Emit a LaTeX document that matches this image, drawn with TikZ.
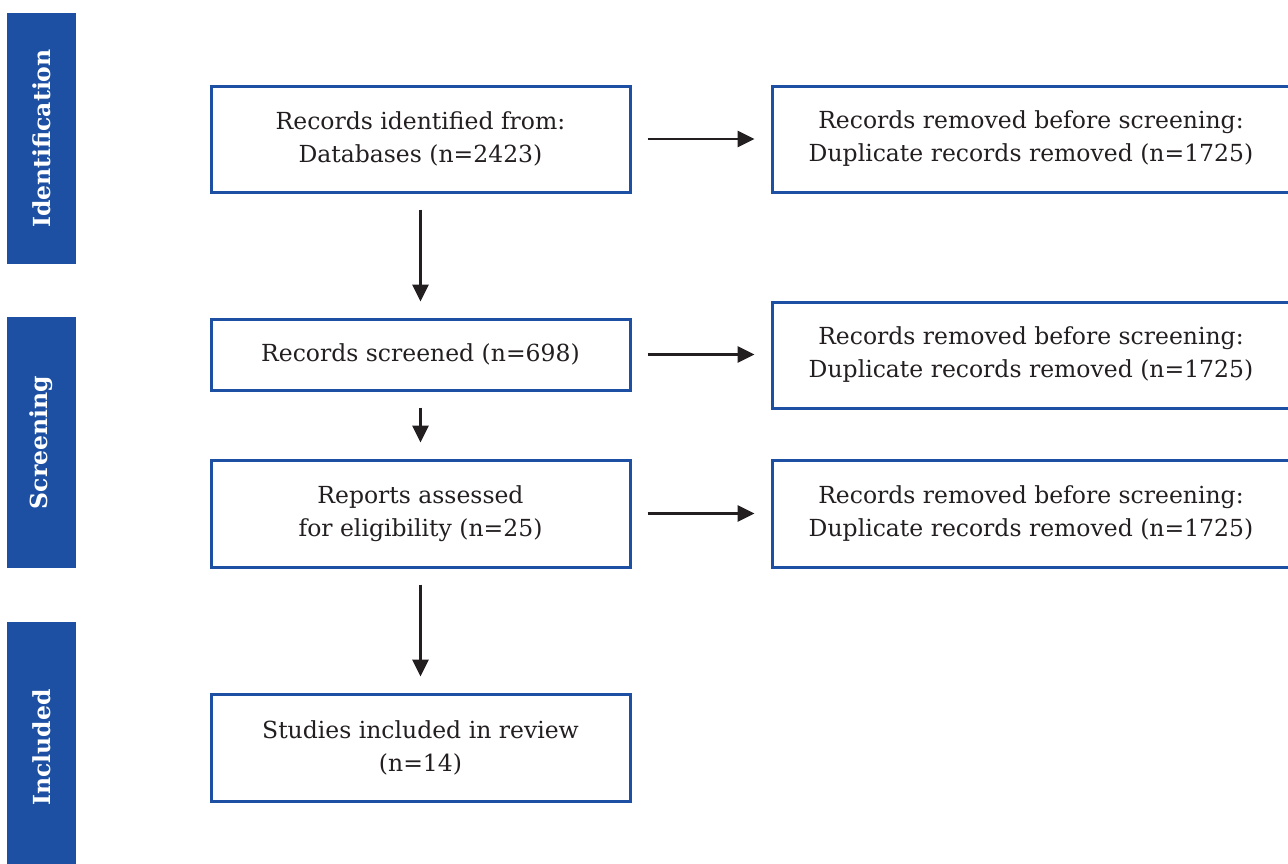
\documentclass[tikz,border=0pt]{standalone}
\usepackage{fontspec}
\setmainfont{DejaVu Serif}
\usetikzlibrary{arrows.meta}
\definecolor{pblue}{HTML}{1D50A2}
\definecolor{pdark}{HTML}{231F20}
\begin{document}
\begin{tikzpicture}[x=1pt,y=-1pt,
 box/.style={draw=pblue, line width=3pt, align=center, inner sep=0pt, text=pdark,
   font=\fontsize{23.5}{33}\selectfont},
 side/.style={fill=pblue, draw=none, minimum height=69pt, inner sep=0pt, text=white,
   font=\bfseries\fontsize{23.5}{26}\selectfont, rotate=90},
 arr/.style={draw=pdark, line width=2.8pt, -{Triangle[length=17pt,width=16pt]},
   shorten <=16pt, shorten >=16pt}]
\useasboundingbox (0,0) rectangle (1288,863);
\clip (0,0) rectangle (1288,863);
\fill[white] (0,0) rectangle (1288,863);
% side bars
\node[side, minimum width=251pt] (sid) at (41.5,138.5) {Identification};
\node[side, minimum width=251pt] (ssc) at (41.5,442.5) {Screening};
\node[side, minimum width=251pt] (sin) at (41.5,747.5) {Included};
% main column
\node[box, minimum width=419pt, minimum height=106pt] (b1) at (420.5,139) {Records identified from:\\Databases (n=2423)};
\node[box, minimum width=419pt, minimum height=71pt] (b2) at (420.5,354.5) {Records screened (n=698)};
\node[box, minimum width=419pt, minimum height=107pt] (b3) at (420.5,513.5) {Reports assessed\\for eligibility (n=25)};
\node[box, minimum width=419pt, minimum height=107pt] (b4) at (420.5,747.5) {Studies included in review\\(n=14)};
% right column
\node[box, minimum width=518pt, minimum height=106pt] (r1) at (1031,139) {Records removed before screening:\\Duplicate records removed (n=1725)};
\node[box, minimum width=518pt, minimum height=106pt] (r2) at (1031,355) {Records removed before screening:\\Duplicate records removed (n=1725)};
\node[box, minimum width=518pt, minimum height=107pt] (r3) at (1031,513.5) {Records removed before screening:\\Duplicate records removed (n=1725)};
% arrows
\draw[arr] (b1.east) -- (r1.west);
\draw[arr] (b2.east) -- (b2.east -| r2.west);
\draw[arr] (b3.east) -- (r3.west);
\draw[arr] (b1.south) -- (b2.north);
\draw[arr] (b2.south) -- (b3.north);
\draw[arr] (b3.south) -- (b4.north);
\end{tikzpicture}
\end{document}
